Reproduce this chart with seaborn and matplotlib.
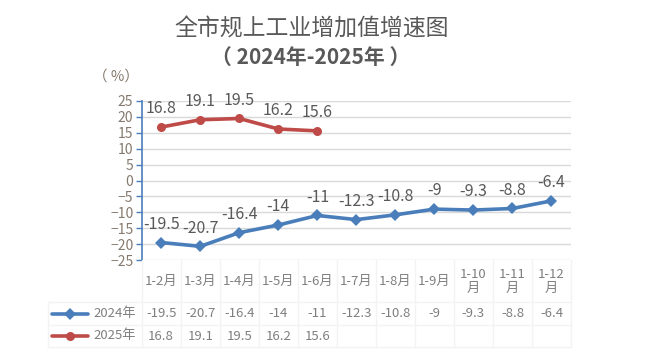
import pandas as pd
import seaborn as sns
import matplotlib.pyplot as plt
from matplotlib.lines import Line2D

months = ['1-2月', '1-3月', '1-4月', '1-5月', '1-6月', '1-7月', '1-8月', '1-9月', '1-10月', '1-11月', '1-12月']
tick_labels = ['1-2月', '1-3月', '1-4月', '1-5月', '1-6月', '1-7月', '1-8月', '1-9月', '1-10\n月', '1-11\n月', '1-12\n月']
v2024 = [-19.5, -20.7, -16.4, -14, -11, -12.3, -10.8, -9, -9.3, -8.8, -6.4]
v2025 = [16.8, 19.1, 19.5, 16.2, 15.6]
series = ['2024年', '2025年']
colors = {'2024年': '#4A7EBB', '2025年': '#BE4B48'}
markers = {'2024年': 'D', '2025年': 'o'}

W, H = 667, 364
sns.set_style('white')
plt.rcParams['font.family'] = ['Noto Sans CJK SC', 'DejaVu Sans']

df = pd.concat([
    pd.DataFrame({'x': range(len(v2024)), 'val': v2024, 'year': '2024年'}),
    pd.DataFrame({'x': range(len(v2025)), 'val': v2025, 'year': '2025年'}),
])

fig = plt.figure(figsize=(W / 100, H / 100), dpi=100)
L, R, T, B = 141.7, 571, 101, 260
ax = fig.add_axes([L / W, 1 - B / H, (R - L) / W, (B - T) / H])

sns.lineplot(data=df, x='x', y='val', hue='year', style='year', palette=colors,
             markers=markers, dashes=False, linewidth=2.6, markersize=6.5,
             markeredgewidth=0, legend=False, sort=False, ax=ax)

txt = '#595959'
for s, vals in zip(series, [v2024, v2025]):
    for i, v in enumerate(vals):
        ax.annotate(f'{v:g}', (i, v), xytext=(0, 7), textcoords='offset points',
                    ha='center', va='bottom', fontsize=11.5, color=txt)

ax.set_xlim(-0.5, len(months) - 0.5)
ax.set_ylim(-25, 25)
ax.set_yticks(range(-25, 26, 5))
ax.yaxis.grid(True, color='#D9D9D9', linewidth=1)
ax.set_xticks([])
ax.set_xlabel('')
ax.set_ylabel('')
for sp in ['top', 'right', 'bottom']:
    ax.spines[sp].set_visible(False)
ax.spines['left'].set_color('#4A7EBB')
ax.spines['left'].set_linewidth(1.2)
ax.tick_params(axis='y', length=4, width=1, color='#4A7EBB', labelsize=10,
               labelcolor='#857A6E', pad=2, left=True)

fig.text(116 / W, 1 - 77 / H, '（ %）', ha='center', va='center', fontsize=10.5, color='#857A6E')
fig.text(312 / W, 1 - 29 / H, '全市规上工业增加值增速图', ha='center', va='center',
         fontsize=16.5, color=txt)
fig.text(311 / W, 1 - 57 / H, '（ 2024年-2025年 ）', ha='center', va='center',
         fontsize=15, fontweight='bold', color=txt)

# data table below the axis
n = len(months)
cw = (R - L) / n
grid_c = '#F3F3F3'
rows = [302, 325, 347]
for i in range(n + 1):
    x = L + i * cw
    fig.add_artist(Line2D([x / W] * 2, [1 - B / H, 1 - rows[-1] / H], color=grid_c, lw=1))
fig.add_artist(Line2D([48 / W] * 2, [1 - rows[0] / H, 1 - rows[-1] / H], color=grid_c, lw=1))
for y in rows:
    fig.add_artist(Line2D([48 / W, R / W], [1 - y / H] * 2, color=grid_c, lw=1))

for i, lab in enumerate(tick_labels):
    cx = (L + (i + 0.5) * cw) / W
    fig.text(cx, 1 - 281 / H, lab, ha='center', va='center', fontsize=9.5,
             color='#7F7F7F', linespacing=1.1)
for r, (s, vals) in enumerate(zip(series, [v2024, v2025])):
    cy = 1 - (313.5 + r * 22.5) / H
    for i, v in enumerate(vals):
        cx = (L + (i + 0.5) * cw) / W
        fig.text(cx, cy, f'{v:g}', ha='center', va='center', fontsize=9.5, color='#7F7F7F')
    fig.add_artist(Line2D([52 / W, 88 / W], [cy, cy], color=colors[s], lw=2.6))
    fig.add_artist(Line2D([70 / W], [cy], color=colors[s], marker=markers[s],
                          markersize=6.5, markeredgewidth=0))
    fig.text(93 / W, cy, s, ha='left', va='center', fontsize=9.5, color='#7F7F7F')

fig.savefig('out.png', dpi=100)
